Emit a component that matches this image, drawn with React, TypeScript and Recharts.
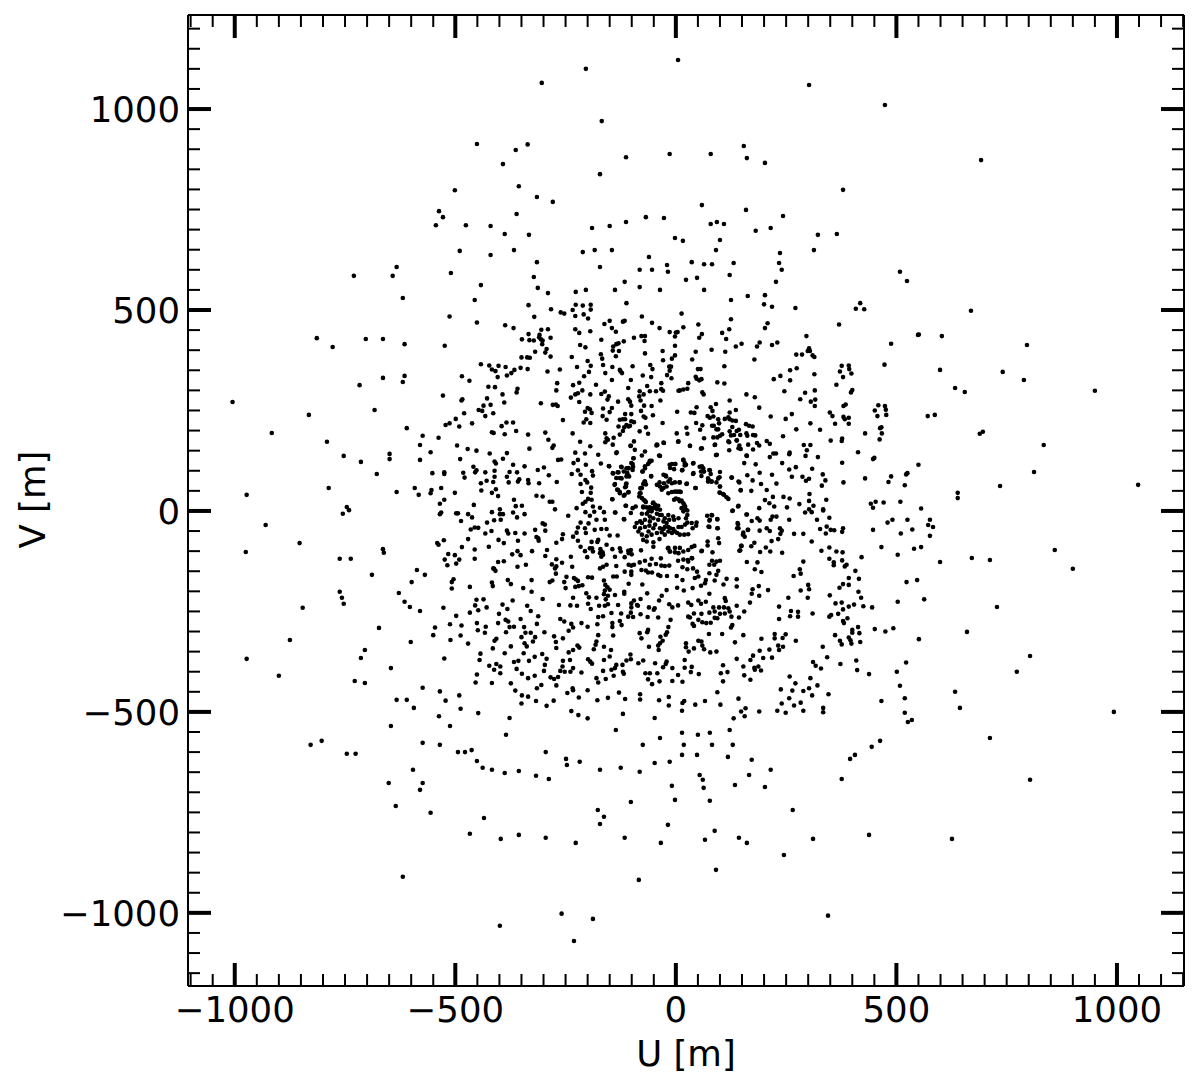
import React from "react";
import { ScatterChart, Scatter, XAxis, YAxis } from "recharts";

type P = number[];
const northWest: P[] = [[-334,512],[-283,502],[-261,494],[-253,491],[-227,513],[-211,511],[-193,513],[-193,501],[-234,500],[-228,485],[-209,489],[-199,479],[-112,517],[-77,484],[-513,484],[-451,469],[-321,483],[-387,462],[-368,455],[-162,465],[-150,473],[-120,471],[-116,473],[-54,468],[-37,455],[-145,455],[-136,446],[-228,452],[-219,443],[-194,447],[-305,451],[-290,452],[-334,440],[-309,438],[-310,432],[-306,427],[-284,431],[-349,427],[-332,425],[-322,424],[-302,424],[-303,415],[-169,426],[-95,431],[-78,435],[-70,435],[-71,423],[-14,445],[0,444],[4,445],[-2,434],[-2,411],[-524,411],[-217,413],[-205,407],[-142,409],[-135,415],[-130,417],[-118,422],[-143,399],[-129,398],[-136,385],[-293,403],[-296,394],[-319,396],[-284,384],[-350,382],[-337,382],[-331,381],[-236,383],[-170,390],[-167,379],[-70,392],[-30,398],[-2,387],[-9,379],[-29,375],[-200,373],[-165,363],[-442,365],[-423,362],[-402,361],[-386,358],[-417,352],[-409,348],[-352,356],[-366,351],[-336,353],[-373,343],[-383,337],[-404,333],[-291,347],[-263,352],[-224,358],[-193,361],[-144,358],[-98,360],[-58,363],[-53,353],[-15,359],[-11,359],[-14,349],[-197,346],[-160,343],[-127,351],[-125,347],[-122,343],[-20,338],[-10,330],[-75,337],[-56,333],[-208,335],[-485,335],[-468,324],[-145,326],[-102,326],[-269,318],[-219,319],[-233,313],[-181,314],[-33,318],[-65,311],[-108,306],[-425,309],[-410,308],[-359,304],[-361,295],[-271,300],[-212,300],[-222,293],[-161,297],[-169,291],[-82,298],[-59,298],[-45,298],[-33,303],[-29,299],[6,299],[-393,290],[-528,287],[-228,290],[-238,282],[-194,290],[-152,285],[-155,277],[-73,290],[-83,285],[-80,275],[-484,278],[-486,275],[-428,280],[-219,271],[-131,272],[-108,278],[-104,272],[-101,262],[-35,275],[-389,270],[-306,268],[-279,264],[-272,265],[-268,261],[-420,264],[-436,262],[-72,262],[-55,261],[-447,251],[-439,249],[-480,243],[-414,243],[-432,236],[-200,256],[-195,253],[-206,247],[-191,244],[-165,255],[-145,256],[-150,246],[-79,249],[3,247],[-115,241],[-101,241],[-166,236],[-157,227],[-73,235],[-69,232],[-52,238],[-203,228],[-209,220],[-194,219],[-256,226],[-127,227],[-120,228],[-115,228],[-101,223],[-499,229],[-513,218],[-522,214],[-491,210],[-462,218],[-384,220],[-369,220],[-395,211],[-130,210],[-117,208],[-112,214],[-107,210],[-104,212],[-95,221],[-30,219],[-68,208],[-417,196],[-413,194],[-388,191],[-362,199],[-335,190],[-296,195],[-120,199],[-127,190],[-160,193],[-234,193],[-82,198],[-63,192],[2,193],[-538,182],[-289,177],[-141,182],[-157,181],[-154,177],[-160,171],[-217,172],[-95,173],[5,172],[-27,169],[-42,164],[-44,163],[-103,162],[-496,163],[-277,163],[-280,157],[-194,161],[-332,155],[-472,154],[-452,150],[-556,146],[-422,143],[-383,144],[-228,145],[-206,143],[-176,140],[-135,144],[-70,148],[-77,138],[-38,138],[-96,131],[-489,129],[-392,130],[-267,127],[-260,128],[-222,127],[-232,119],[-411,123],[-408,118],[-369,115],[-343,111],[-459,110],[-299,108],[-204,115],[-170,118],[-151,111],[-101,119],[-97,110],[-124,110],[-112,106],[-107,106],[-59,125],[-63,117],[-70,106],[-76,98],[-14,115],[-1,117],[-452,101],[-455,96],[-313,102],[-222,101],[-190,99],[-188,88],[-552,94],[-525,96],[-525,92],[-482,95],[-479,83],[-432,96],[-411,100],[-377,97],[-360,96],[-236,92],[-216,90],[-142,93],[-132,96],[-110,94],[-106,86],[-98,102],[-411,85],[-383,85],[-288,89],[-56,86],[-23,88],[-355,79],[-358,73],[-335,77],[-334,69],[-135,82],[-123,81],[-429,75],[-442,69],[-414,72],[-379,71],[-310,69],[-270,72],[-205,77],[-201,71],[-216,67],[-139,65],[-113,67],[-113,61],[-71,73],[-68,66],[-77,57],[-532,57],[-554,52],[-556,44],[-408,54],[-441,51],[-192,58],[-131,52],[-127,47],[-501,45],[-417,45],[-316,38],[-302,36],[-213,47],[-193,45],[-107,47],[-116,40],[-80,56],[-82,44],[-83,36],[-403,37],[-525,28],[-535,18],[-367,28],[-286,23],[-280,23],[-199,30],[-191,28],[-205,23],[-211,18],[-144,29],[-73,28],[-68,22],[-52,19],[-458,15],[-363,12],[-349,13],[-114,13],[-91,11],[-399,4],[-274,4],[-225,7],[-188,11],[-172,8],[-74,9],[-59,9],[-44,9]];
const northEast: P[] = [[13,491],[200,514],[218,508],[271,505],[418,517],[408,503],[427,502],[125,477],[51,464],[17,457],[208,467],[202,455],[370,464],[121,452],[105,443],[59,440],[53,431],[114,428],[296,435],[551,439],[190,419],[184,409],[149,416],[136,409],[230,419],[218,413],[488,416],[81,401],[45,396],[112,396],[302,405],[299,398],[304,398],[273,389],[286,389],[310,387],[314,383],[37,377],[178,377],[110,360],[473,364],[376,361],[392,362],[393,353],[398,342],[372,347],[379,333],[50,353],[56,353],[274,355],[259,350],[314,340],[237,336],[222,328],[259,325],[45,334],[47,329],[53,325],[58,328],[94,320],[110,317],[28,318],[364,314],[26,304],[17,302],[9,300],[246,298],[315,300],[293,294],[400,301],[397,295],[60,295],[63,290],[160,290],[179,283],[282,278],[316,277],[306,272],[315,261],[122,275],[189,257],[91,266],[79,258],[83,249],[47,258],[136,251],[122,245],[34,245],[42,244],[459,263],[451,250],[474,261],[476,252],[477,239],[457,236],[385,265],[380,261],[349,245],[355,236],[263,241],[215,235],[249,229],[72,236],[77,232],[85,235],[111,229],[119,233],[122,228],[128,225],[136,224],[96,228],[98,218],[380,234],[383,228],[392,232],[46,219],[60,213],[361,217],[392,217],[305,218],[571,236],[159,216],[166,212],[174,210],[82,212],[86,212],[128,209],[24,207],[55,202],[92,203],[96,203],[273,203],[327,202],[122,198],[138,199],[143,202],[466,208],[463,206],[26,192],[429,193],[467,193],[105,191],[100,187],[94,183],[85,183],[125,188],[132,189],[146,189],[160,193],[162,187],[175,189],[180,188],[243,186],[64,181],[138,176],[121,171],[351,175],[377,180],[376,174],[462,178],[88,164],[32,162],[144,163],[147,154],[164,165],[184,169],[189,163],[206,174],[213,167],[290,164],[305,164],[57,155],[121,151],[175,153],[297,151],[91,139],[160,138],[221,143],[227,143],[258,145],[257,141],[413,146],[294,137],[213,134],[322,134],[450,132],[447,129],[17,127],[20,119],[20,113],[39,118],[155,119],[181,116],[241,119],[377,120],[272,109],[257,103],[309,105],[550,115],[54,110],[62,106],[57,98],[64,98],[58,87],[14,101],[76,102],[79,92],[100,97],[39,92],[190,95],[162,89],[218,90],[333,91],[263,85],[287,85],[525,94],[522,91],[488,86],[126,83],[174,76],[295,75],[302,80],[339,76],[429,81],[73,81],[81,73],[73,73],[96,81],[92,71],[100,61],[144,71],[193,67],[228,68],[380,71],[482,72],[331,63],[519,64],[9,71],[24,67],[44,57],[147,52],[171,50],[206,52],[100,45],[107,42],[115,34],[11,47],[303,42],[220,35],[244,35],[258,31],[341,28],[202,27],[212,19],[280,17],[302,25],[312,13],[442,18],[453,23],[471,21],[447,8],[509,23],[141,11],[189,7],[223,11],[252,9],[302,4],[334,4],[556,6]];
const southWest: P[] = [[-532,-4],[-535,-8],[-498,-6],[-494,-6],[-471,-8],[-462,-16],[-417,-3],[-399,-8],[-392,-8],[-369,-4],[-360,-16],[-343,-8],[-244,-12],[-205,-3],[-185,-2],[-195,-12],[-163,-3],[-138,-4],[-117,-21],[-487,-25],[-428,-29],[-412,-23],[-397,-22],[-302,-31],[-297,-34],[-216,-29],[-198,-31],[-180,-22],[-161,-22],[-222,-41],[-206,-43],[-225,-54],[-184,-47],[-169,-45],[-157,-45],[-465,-46],[-456,-41],[-448,-42],[-418,-50],[-432,-56],[-383,-49],[-380,-56],[-364,-55],[-343,-56],[-319,-47],[-296,-49],[-316,-65],[-311,-74],[-312,-68],[-256,-58],[-258,-70],[-233,-64],[-204,-55],[-150,-61],[-132,-61],[-471,-70],[-526,-73],[-541,-80],[-538,-84],[-402,-72],[-390,-80],[-358,-74],[-271,-79],[-222,-74],[-191,-77],[-176,-72],[-178,-77],[-157,-84],[-216,-89],[-424,-89],[-485,-90],[-456,-96],[-326,-100],[-292,-97],[-296,-112],[-206,-100],[-195,-93],[-188,-101],[-190,-93],[-171,-95],[-166,-103],[-172,-105],[-144,-95],[-127,-93],[-125,-101],[-108,-99],[-102,-97],[-107,-105],[-100,-108],[-79,-98],[-51,-89],[-18,-93],[-14,-101],[-516,-107],[-501,-110],[-524,-121],[-518,-135],[-498,-131],[-491,-121],[-456,-119],[-371,-108],[-359,-100],[-352,-110],[-340,-134],[-403,-127],[-390,-125],[-359,-139],[-271,-120],[-258,-129],[-281,-133],[-274,-143],[-271,-138],[-238,-114],[-201,-115],[-169,-114],[-165,-109],[-138,-114],[-116,-115],[-82,-128],[-70,-124],[-55,-119],[5,-124],[-412,-144],[-414,-143],[-409,-149],[-235,-139],[-272,-156],[-165,-139],[-172,-143],[-157,-134],[-135,-137],[-107,-134],[-95,-134],[-101,-136],[-78,-147],[-68,-148],[-59,-134],[-45,-132],[-34,-118],[-33,-136],[-25,-137],[-15,-136],[-116,-151],[-101,-151],[-101,-159],[-63,-153],[-54,-153],[-40,-159],[-35,-162],[-20,-162],[2,-162],[-142,-163],[-134,-163],[-504,-170],[-508,-177],[-508,-193],[-467,-189],[-417,-178],[-415,-187],[-381,-172],[-374,-182],[-327,-172],[-327,-201],[-346,-192],[-286,-177],[-280,-173],[-253,-177],[-248,-164],[-250,-192],[-231,-167],[-227,-170],[-222,-174],[-228,-189],[-220,-187],[-212,-185],[-199,-165],[-190,-166],[-163,-173],[-160,-184],[-155,-190],[-107,-181],[-76,-183],[3,-191],[-21,-197],[-161,-198],[-150,-196],[-138,-209],[-117,-201],[-117,-206],[-163,-207],[-154,-211],[-159,-220],[-203,-205],[-197,-215],[-180,-216],[-65,-205],[-32,-211],[-38,-223],[-233,-216],[-95,-223],[-80,-219],[-452,-221],[-436,-220],[-370,-223],[-302,-219],[-265,-234],[-239,-235],[-224,-236],[-199,-231],[-193,-244],[-174,-236],[-161,-236],[-154,-232],[-131,-234],[-101,-230],[-88,-234],[-101,-240],[-86,-236],[-61,-240],[-48,-242],[-50,-246],[-15,-232],[-8,-240],[5,-235],[-527,-241],[-455,-235],[-448,-247],[-429,-240],[-393,-233],[-382,-244],[-337,-236],[-329,-249],[-467,-253],[-498,-261],[-401,-256],[-312,-262],[-146,-254],[-124,-255],[-102,-253],[-108,-263],[-97,-264],[-80,-257],[-64,-264],[-40,-265],[-176,-264],[-165,-262],[-352,-269],[-386,-271],[-380,-275],[-403,-279],[-451,-279],[-512,-282],[-486,-285],[-315,-281],[-262,-269],[-253,-275],[-237,-281],[-233,-290],[-214,-279],[-200,-288],[-178,-282],[-144,-279],[-144,-289],[-127,-274],[-123,-284],[-12,-271],[-546,-290],[-377,-289],[-367,-288],[-344,-289],[-431,-288],[-449,-297],[-433,-303],[-243,-298],[-176,-309],[-142,-310],[-63,-296],[-65,-302],[-17,-289],[-20,-302],[-23,-308],[-82,-304],[-78,-317],[-35,-313],[-385,-302],[-341,-303],[-350,-314],[-329,-303],[-319,-314],[-324,-325],[-298,-302],[-276,-312],[-272,-326],[-256,-317],[-550,-309],[-488,-310],[-511,-321],[-471,-330],[-407,-318],[-411,-323],[-343,-329],[-338,-337],[-374,-337],[-415,-342],[-271,-341],[-223,-335],[-219,-340],[-233,-346],[-243,-352],[-180,-325],[-182,-333],[-186,-344],[-163,-338],[-147,-346],[-61,-338],[-40,-335],[-36,-329],[-30,-323],[-39,-346],[-103,-357],[-150,-362],[-388,-354],[-345,-354],[-303,-356],[-443,-355],[-445,-371],[-525,-367],[-320,-363],[-333,-373],[-293,-368],[-297,-383],[-367,-376],[-357,-373],[-256,-373],[-240,-371],[-199,-369],[-194,-375],[-190,-380],[-163,-371],[-112,-372],[-102,-369],[-135,-383],[-121,-383],[-138,-391],[-146,-395],[-120,-400],[-118,-405],[-85,-379],[-74,-372],[-47,-379],[-29,-389],[-21,-375],[-23,-381],[-8,-391],[-423,-385],[-407,-381],[-398,-387],[-412,-395],[-398,-404],[-361,-393],[-299,-398],[-257,-387],[-262,-398],[-252,-400],[-233,-391],[-239,-400],[-214,-402],[-165,-398],[-349,-405],[-335,-416],[-320,-410],[-451,-407],[-454,-427],[-417,-428],[-284,-414],[-276,-418],[-267,-413],[-180,-416],[-176,-427],[-159,-418],[-141,-410],[-69,-404],[-59,-404],[-63,-419],[-54,-431],[-37,-424],[-42,-404],[-8,-423],[5,-408],[-374,-429],[-305,-433],[-315,-441],[-271,-434],[-535,-449],[-364,-447],[-234,-441],[-233,-446],[-246,-453],[-200,-446],[-129,-452],[-491,-459],[-349,-459],[-335,-462],[-220,-464],[-81,-456],[-81,-469],[-154,-465],[-115,-468],[-16,-463],[-522,-472],[-317,-473],[-277,-472],[-178,-471],[-38,-471],[-350,-479],[-293,-485],[-16,-484],[-488,-492],[-448,-503],[-237,-498],[-221,-508],[-120,-505],[-537,-511],[-377,-515],[-200,-516],[-48,-515]];
const southEast: P[] = [[71,-12],[82,-11],[94,-21],[77,-22],[128,0],[160,-9],[172,-25],[185,-18],[190,-24],[219,-14],[228,-14],[215,-22],[257,-22],[293,-4],[308,-3],[334,1],[348,-17],[320,-22],[141,-33],[139,-43],[76,-40],[95,-43],[206,-43],[213,-50],[190,-49],[163,-47],[153,-54],[156,-64],[236,-43],[240,-49],[237,-57],[268,-57],[289,-57],[327,-45],[342,-39],[340,-56],[351,-47],[359,-48],[379,-43],[377,-52],[447,-47],[480,-29],[491,-22],[525,-22],[536,-46],[510,-56],[572,-35],[576,-62],[96,-68],[98,-80],[72,-76],[72,-86],[232,-70],[217,-75],[178,-79],[171,-88],[148,-87],[144,-99],[308,-76],[204,-91],[214,-101],[191,-102],[241,-104],[58,-100],[83,-103],[330,-99],[348,-91],[364,-101],[378,-103],[466,-90],[503,-109],[540,-94],[556,-90],[421,-115],[348,-119],[377,-123],[387,-134],[383,-138],[358,-128],[358,-135],[289,-126],[161,-127],[185,-128],[27,-122],[37,-118],[82,-124],[92,-126],[100,-124],[76,-134],[87,-134],[179,-145],[194,-152],[281,-145],[283,-156],[267,-162],[407,-149],[96,-149],[92,-159],[76,-155],[39,-143],[48,-151],[51,-163],[43,-167],[15,-140],[26,-145],[115,-169],[138,-170],[15,-172],[68,-172],[66,-180],[57,-186],[88,-173],[108,-183],[138,-188],[188,-187],[174,-195],[172,-206],[189,-211],[209,-197],[392,-167],[379,-182],[392,-184],[371,-191],[415,-169],[300,-184],[302,-195],[283,-198],[299,-216],[255,-216],[414,-201],[420,-216],[523,-177],[547,-172],[38,-192],[18,-198],[76,-206],[111,-217],[113,-224],[349,-210],[563,-220],[503,-226],[168,-228],[28,-228],[35,-234],[51,-223],[57,-231],[68,-226],[138,-236],[234,-238],[362,-230],[376,-228],[392,-238],[404,-233],[379,-245],[425,-237],[445,-240],[85,-240],[98,-240],[109,-240],[119,-242],[122,-250],[41,-255],[58,-256],[76,-253],[88,-250],[100,-256],[111,-255],[155,-250],[261,-249],[277,-251],[259,-262],[277,-263],[310,-255],[368,-256],[352,-259],[348,-263],[28,-263],[32,-265],[88,-266],[94,-267],[126,-263],[143,-265],[234,-269],[389,-267],[379,-274],[381,-279],[51,-271],[60,-277],[69,-279],[79,-278],[38,-281],[41,-286],[128,-284],[125,-290],[413,-289],[400,-296],[400,-303],[416,-304],[451,-294],[475,-300],[493,-292],[75,-306],[105,-306],[153,-309],[194,-318],[224,-306],[224,-317],[249,-307],[242,-316],[361,-309],[392,-315],[372,-323],[376,-332],[396,-322],[398,-330],[418,-326],[551,-319],[272,-323],[134,-327],[23,-329],[23,-339],[51,-323],[58,-325],[60,-335],[41,-342],[29,-350],[64,-344],[232,-335],[234,-346],[243,-338],[212,-345],[190,-348],[333,-338],[78,-352],[92,-350],[175,-360],[169,-371],[198,-366],[218,-365],[343,-364],[138,-368],[20,-371],[409,-372],[311,-376],[317,-385],[329,-392],[522,-377],[373,-381],[107,-384],[153,-387],[20,-390],[36,-388],[178,-390],[187,-387],[179,-395],[193,-397],[34,-401],[411,-396],[102,-404],[117,-401],[52,-406],[438,-406],[501,-400],[155,-409],[258,-412],[305,-416],[169,-420],[107,-424],[15,-425],[271,-429],[321,-434],[508,-435],[238,-444],[264,-447],[289,-448],[302,-441],[94,-451],[309,-459],[346,-456],[257,-466],[142,-467],[519,-466],[466,-473],[19,-473],[15,-478],[44,-482],[66,-473],[101,-482],[240,-479],[268,-484],[283,-477],[334,-490],[334,-501],[158,-491],[148,-499],[156,-511],[131,-516],[14,-497],[189,-499],[230,-497],[249,-502],[289,-497],[519,-502]];
const core: P[] = [[-9,117],[-2,117],[-13,107],[-4,104],[17,127],[23,115],[15,102],[-55,125],[-60,121],[-70,111],[-75,98],[-56,87],[-28,90],[-22,86],[-13,79],[-17,73],[-37,71],[-43,65],[-27,69],[-2,71],[8,71],[25,68],[-28,57],[-32,53],[-17,44],[-9,47],[-2,48],[9,48],[-70,73],[-74,67],[-80,57],[-80,44],[-77,32],[-70,25],[-51,21],[-40,13],[-36,3],[-51,7],[-43,5],[-74,11],[-66,9],[-55,-1],[-43,-7],[-32,-10],[-4,28],[6,29],[13,26],[17,19],[21,11],[13,7],[23,3],[26,-10],[-6,-14],[-15,-22],[-4,-22],[6,-18],[-77,-7],[-66,-7],[-59,-14],[-70,-22],[-81,-26],[-89,-30],[-77,-30],[-51,-18],[-40,-22],[-28,-26],[-21,-30],[-25,-40],[-13,-43],[-6,-45],[6,-40],[13,-40],[21,-34],[26,-29],[36,-30],[47,-29],[46,-37],[38,-43],[-93,-40],[-81,-43],[-70,-40],[-60,-37],[-47,-34],[-36,-43],[-32,-53],[-43,-55],[-55,-59],[-66,-63],[-74,-72],[-66,-76],[-51,-78],[-37,-70],[-25,-59],[-17,-51],[-85,-51],[-77,-59],[-62,-51],[-9,-55],[9,-59],[19,-59],[28,-58],[-17,-92],[-13,-101],[-2,-92],[9,-92],[-2,-103],[6,-105],[17,-101],[28,-97],[36,-90],[42,-87],[17,-121],[28,-126],[36,-117],[59,-99],[81,-10],[76,-24],[94,-20],[74,-39],[94,-43],[-113,13],[-98,7],[-102,-5],[-118,-20],[-137,-4],[-152,112],[-134,146],[-143,165],[-102,162],[-93,152],[-96,131],[-98,117],[-108,107],[-123,109],[-143,94],[-130,96],[-118,98],[-112,86],[-127,82],[-138,67],[-112,68],[-115,59],[-133,53],[-127,44],[-118,38],[-108,46],[-144,29],[-43,165],[-28,170],[6,173],[32,162],[59,156],[89,165],[93,140],[119,173],[138,175],[142,156],[161,137],[-36,137],[40,119],[59,111],[62,98],[77,101],[40,94],[74,78],[81,73],[99,84],[100,61],[127,83],[142,73],[45,57],[147,51],[99,46],[109,40],[119,30],[129,1],[142,13],[161,-9],[140,-30],[142,-43],[152,-59],[164,-47],[149,-87],[146,-98]];
const coreDense: P[] = [[0,31],[9,24],[19,15],[17,-1],[26,1],[23,-18],[-2,-51],[3,-55],[-17,-40],[-28,-45],[-51,-43],[-59,-26],[-62,-1],[-47,15],[-59,7],[-36,-10],[-25,-18],[-17,-10],[-9,69],[-21,61],[3,48],[-36,61]];
const outerTop: P[] = [[5,1122],[-204,1100],[-304,1065],[302,1060],[474,1010],[-168,970],[-451,913],[-336,912],[-363,898],[-392,863],[-172,838],[-113,880],[-14,888],[79,888],[154,908],[161,878],[202,866],[692,873],[-501,798],[-356,808],[-315,781],[379,799],[-279,769],[-537,746],[-528,731],[-544,711],[-476,711],[-361,739],[-388,689],[-420,709],[159,749],[243,734],[93,719],[79,714],[109,714],[-68,731],[-113,719],[-27,729],[-150,709],[-190,704],[59,761],[215,704],[181,697],[365,689],[322,687],[-333,687],[-490,647],[-367,649],[-420,637],[-2,679],[16,672],[100,674],[91,649],[-184,649],[-211,644],[-145,649],[-61,632],[-20,612],[36,619],[82,614],[64,614],[131,617],[236,642],[234,617],[313,649],[-633,607],[-642,585],[-730,585],[-510,592],[-322,582],[-313,555],[-619,530],[-442,562],[-315,619],[-172,607],[-116,570],[-82,600],[-54,600],[-18,595],[48,580],[122,587],[227,570],[240,600],[508,595],[524,572],[23,575],[64,550],[-82,557],[-36,550],[-138,550],[-227,545],[-204,550],[-290,542],[125,525],[202,537],[163,535],[-456,525]];
const outerLeft: P[] = [[-814,430],[-778,408],[-703,428],[-717,313],[-664,428],[-615,415],[-615,336],[-664,331],[-619,321],[-1005,271],[-916,194],[-832,239],[-791,172],[-683,251],[-753,137],[-714,122],[-649,142],[-649,129],[-678,92],[-973,40],[-787,57],[-633,47],[-592,57],[-610,206],[-574,187],[-580,164],[-580,127],[-746,10],[-741,2],[-755,-7],[-583,40],[-930,-35],[-975,-102],[-853,-80],[-664,-95],[-662,-104],[-762,-119],[-737,-119],[-689,-159],[-762,-201],[-757,-216],[-753,-231],[-846,-241],[-628,-204],[-615,-226],[-603,-239],[-580,-249],[-599,-177],[-569,-159],[-587,-147],[-875,-321],[-973,-368],[-900,-410],[-673,-291],[-601,-326],[-646,-391],[-705,-346],[-714,-366],[-728,-423],[-705,-428],[-633,-470],[-610,-470],[-574,-440],[-594,-490],[-646,-535],[-574,-577],[-803,-572],[-828,-582],[-746,-604],[-726,-604],[-651,-677],[-574,-677],[-635,-734],[-596,-644],[-580,-694],[-556,-751],[-619,-910]];
const outerBottom: P[] = [[-512,-535],[-494,-600],[-478,-600],[-463,-595],[-535,-582],[-451,-622],[-438,-639],[-385,-557],[-417,-644],[-388,-652],[-356,-647],[-317,-659],[-288,-667],[-467,-803],[-435,-764],[-397,-816],[-356,-806],[-295,-813],[-227,-826],[-172,-779],[-177,-744],[-163,-761],[-116,-813],[-34,-826],[-84,-918],[-102,-724],[-172,-644],[-247,-632],[-218,-624],[-249,-617],[-295,-600],[-125,-639],[-82,-649],[-48,-627],[-136,-545],[-75,-582],[-36,-565],[-14,-624],[-9,-684],[-2,-719],[-18,-781],[14,-552],[18,-582],[14,-607],[50,-557],[48,-607],[77,-552],[82,-582],[54,-657],[63,-689],[61,-669],[77,-721],[122,-545],[129,-582],[118,-612],[88,-796],[66,-818],[91,-893],[134,-682],[143,-813],[161,-826],[202,-687],[166,-657],[172,-619],[215,-644],[265,-744],[245,-856],[311,-816],[376,-667],[395,-617],[406,-607],[444,-587],[463,-572],[438,-806],[345,-1007],[626,-816],[-399,-1032],[-259,-1002],[-231,-1070],[-188,-1015],[526,-525],[535,-520],[644,-490],[633,-450],[712,-565],[803,-669],[993,-500],[773,-400],[803,-361],[660,-301]];
const outerRight: P[] = [[669,498],[603,435],[549,438],[796,413],[789,326],[741,346],[950,299],[633,306],[655,296],[587,239],[689,192],[696,197],[834,164],[812,97],[599,351],[1048,65],[735,62],[639,45],[639,32],[576,-22],[583,-40],[859,-97],[900,-144],[671,-117],[712,-122],[599,-127],[728,-239]];

const allPoints = [...northWest, ...northEast, ...southWest, ...southEast, ...core, ...coreDense, ...outerTop, ...outerLeft, ...outerBottom, ...outerRight].map(([u, v]) => ({ u, v }));

const uDomain = [-1106, 1152];
const vDomain = [-1182, 1234];
const uTicks: number[] = [-1100,-1050,-1000,-950,-900,-850,-800,-750,-700,-650,-600,-550,-500,-450,-400,-350,-300,-250,-200,-150,-100,-50,0,50,100,150,200,250,300,350,400,450,500,550,600,650,700,750,800,850,900,950,1000,1050,1100,1150];
const vTicks: number[] = [-1150,-1100,-1050,-1000,-950,-900,-850,-800,-750,-700,-650,-600,-550,-500,-450,-400,-350,-300,-250,-200,-150,-100,-50,0,50,100,150,200,250,300,350,400,450,500,550,600,650,700,750,800,850,900,950,1000,1050,1100,1150,1200];

const FONT = "'DejaVu Sans', sans-serif";
const FS = 35.5;
const isMajor = (v: number) => v % 500 === 0;
const fmt = (v: number) => (v < 0 ? "\u2212" + Math.abs(v) : String(v));

const XTick = (side: "top" | "bottom") => (p: any) => {
  const major = isMajor(p.payload.value);
  const dir = side === "bottom" ? -1 : 1;
  const len = major ? 23 : 12;
  return (
    <g>
      <line x1={p.x} x2={p.x} y1={p.y} y2={p.y + dir * len} stroke="#000" strokeWidth={major ? 4 : 2} />
      {side === "bottom" && major ? (
        <text x={p.x} y={p.y + 36} textAnchor="middle" fontFamily={FONT} fontSize={FS} fill="#000">{fmt(p.payload.value)}</text>
      ) : null}
    </g>
  );
};
const YTick = (side: "left" | "right") => (p: any) => {
  const major = isMajor(p.payload.value);
  const dir = side === "left" ? 1 : -1;
  const len = major ? 23 : 12;
  return (
    <g>
      <line x1={p.x} x2={p.x + dir * len} y1={p.y} y2={p.y} stroke="#000" strokeWidth={major ? 4 : 2} />
      {side === "left" && major ? (
        <text x={p.x - 8} y={p.y + 13} textAnchor="end" fontFamily={FONT} fontSize={FS} fill="#000">{fmt(p.payload.value)}</text>
      ) : null}
    </g>
  );
};
const Dot = (p: any) => <circle cx={p.cx} cy={p.cy} r={2.3} fill="#000" />;
const axisLine = { stroke: "#000", strokeWidth: 2 };

export default function App() {
  return (
    <ScatterChart width={1192} height={1080} margin={{ left: 179, top: 6, right: 15, bottom: 101 }}>
      <XAxis xAxisId="b" dataKey="u" type="number" domain={uDomain} ticks={uTicks} interval={0} orientation="bottom" height={1} tickSize={0} tickMargin={0} tickLine={false} axisLine={axisLine} tick={XTick("bottom")} allowDataOverflow
        label={{ value: "U [m]", position: "insideBottom", offset: -79, fontFamily: FONT, fontSize: FS, fill: "#000" }} />
      <XAxis xAxisId="t" dataKey="u" type="number" domain={uDomain} ticks={uTicks} interval={0} orientation="top" height={1} tickSize={0} tickMargin={0} tickLine={false} axisLine={axisLine} tick={XTick("top")} allowDataOverflow />
      <YAxis yAxisId="l" dataKey="v" type="number" domain={vDomain} ticks={vTicks} interval={0} orientation="left" width={1} tickSize={0} tickMargin={0} tickLine={false} axisLine={axisLine} tick={YTick("left")} allowDataOverflow
        label={{ value: "V [m]", angle: -90, position: "insideLeft", offset: -155, dy: 48, fontFamily: FONT, fontSize: FS, fill: "#000" }} />
      <YAxis yAxisId="r" dataKey="v" type="number" domain={vDomain} ticks={vTicks} interval={0} orientation="right" width={1} tickSize={0} tickMargin={0} tickLine={false} axisLine={axisLine} tick={YTick("right")} allowDataOverflow />
      <Scatter data={allPoints} xAxisId="b" yAxisId="l" shape={Dot} isAnimationActive={false} />
      <Scatter data={[]} xAxisId="t" yAxisId="r" isAnimationActive={false} />
    </ScatterChart>
  );
}
